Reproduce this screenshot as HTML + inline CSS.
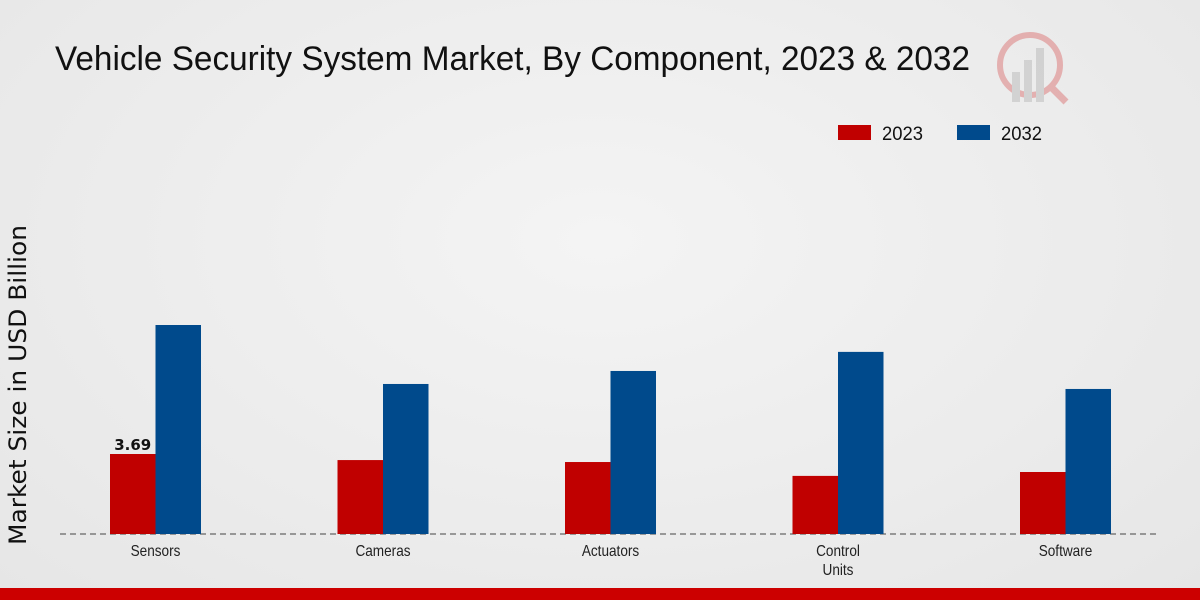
<!DOCTYPE html>
<html><head><meta charset="utf-8">
<style>
html,body{margin:0;padding:0;width:1200px;height:600px;overflow:hidden;}
body{background:radial-gradient(ellipse at 50% 40%,#f4f4f4 0%,#e6e6e6 100%);font-family:"Liberation Sans",sans-serif;}
</style></head>
<body>
<svg width="1200" height="600" xmlns="http://www.w3.org/2000/svg">
<text x="55" y="70" font-size="34" fill="#111" textLength="915" lengthAdjust="spacingAndGlyphs">Vehicle Security System Market, By Component, 2023 &amp; 2032</text>
<g opacity="0.25">
<circle cx="1030" cy="65" r="30" fill="none" stroke="#c00" stroke-width="6"/>
<rect x="1012" y="72" width="8" height="30" fill="#888"/><rect x="1024" y="60" width="8" height="42" fill="#888"/><rect x="1036" y="48" width="8" height="54" fill="#888"/>
<line x1="1052" y1="88" x2="1066" y2="102" stroke="#c00" stroke-width="7"/>
</g>
<g>
<rect x="838" y="125" width="33" height="15" fill="#c00000"/>
<text x="882" y="140" font-size="19" fill="#111" textLength="41" lengthAdjust="spacingAndGlyphs">2023</text>
<rect x="957" y="125" width="33" height="15" fill="#004a8c"/>
<text x="1001" y="140" font-size="19" fill="#111" textLength="41" lengthAdjust="spacingAndGlyphs">2032</text>
</g>
<text transform="translate(26,385) rotate(-90)" text-anchor="middle" font-size="24" fill="#111" font-family="DejaVu Sans, sans-serif" textLength="320" lengthAdjust="spacingAndGlyphs">Market Size in USD Billion</text>
<line x1="60" y1="534" x2="1160" y2="534" stroke="#444" stroke-width="1" stroke-dasharray="6,4"/>
<g id="bars"></g>
<rect x="0" y="588" width="1200" height="12" fill="#cc0000"/>
</svg>
<script>
const categories = ["Sensors","Cameras","Actuators","Control\nUnits","Software"];
const values2023 = [3.69,3.41,3.32,2.68,2.86];
const values2032 = [9.64,6.92,7.52,8.40,6.69];
const labelsShown = ["3.69",null,null,null,null];
const NS="http://www.w3.org/2000/svg";
const g=document.getElementById('bars');
const baseY=534, pxPerUnit=21.68;
function yScale(v){return baseY-v*pxPerUnit;}
function xCenter(i){return 155.5+i*227.5;}
const bw=45.5;
function mk(tag,attrs){const e=document.createElementNS(NS,tag);for(const k in attrs)e.setAttribute(k,attrs[k]);return e;}
categories.forEach((c,i)=>{
  const cx=xCenter(i);
  const r=mk('rect',{x:cx-bw,y:yScale(values2023[i]),width:bw,height:baseY-yScale(values2023[i]),fill:'#c00000'});
  
  
  g.appendChild(r);
  const b=mk('rect',{x:cx,y:yScale(values2032[i]),width:bw,height:baseY-yScale(values2032[i]),fill:'#004a8c'});
  
  
  g.appendChild(b);
  if(labelsShown[i]){
    const t=mk('text',{x:cx-bw/2,y:yScale(values2023[i])-4,'text-anchor':'middle','font-size':'15','font-weight':'bold','font-family':'DejaVu Sans, sans-serif',fill:'#111'});
    t.textContent=labelsShown[i];
    
    
    g.appendChild(t);
  }
  c.split('\n').forEach((line,j)=>{
    const t=mk('text',{transform:'translate('+cx+','+(556+j*19)+') scale(0.85,1)','text-anchor':'middle','font-size':'16',fill:'#222'});
    t.textContent=line;
    
    
    g.appendChild(t);
  });
});
</script>
</body></html>
